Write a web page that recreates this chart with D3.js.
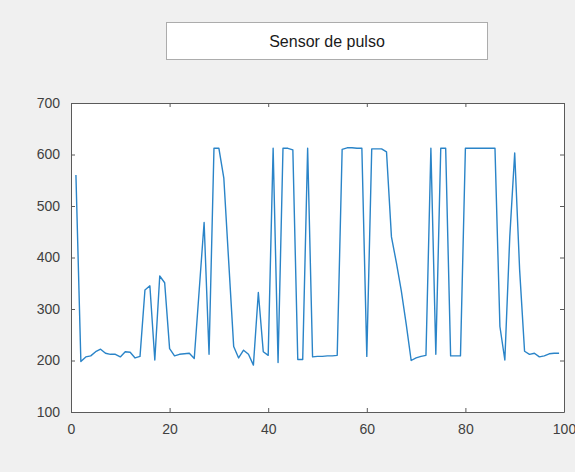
<!DOCTYPE html>
<html>
<head>
<meta charset="utf-8">
<script src="https://cdn.jsdelivr.net/npm/d3@7"></script>
<style>
  html, body { margin: 0; padding: 0; background: #f0f0f0; }
  svg { display: block; font-family: "Liberation Sans", Arial, sans-serif; }
</style>
</head>
<body>
<div id="chart"></div>
<script>
const title = "Sensor de pulso";

// pulse readings, sample 1..99
const pulse = [
  560, 198, 207, 209, 217, 222, 214, 212, 212, 207,
  217, 216, 205, 208, 337, 345, 201, 364, 351, 223,
  209, 212, 213, 214, 204, 336, 468, 212, 612, 612,
  554, 390, 227, 205, 220, 212, 191, 332, 217, 210,
  612, 196, 612, 612, 609, 202, 202, 612, 207, 208,
  208, 209, 209, 210, 610, 613, 613, 612, 612, 208,
  611, 611, 611, 605, 440, 390, 335, 270, 200, 205,
  208, 210, 612, 212, 612, 612, 209, 209, 209, 612,
  612, 612, 612, 612, 612, 612, 266, 201, 440, 603,
  376, 218, 212, 214, 207, 209, 213, 214, 214
];
const samples = pulse.map((d, i) => i + 1);

const xTicks = [0, 20, 40, 60, 80, 100];
const yTicks = [100, 200, 300, 400, 500, 600, 700];

const width = 575, height = 472;
const margin = { left: 71, right: 11, top: 103, bottom: 60 };

const svg = d3.select("#chart").append("svg")
    .attr("width", width)
    .attr("height", height);

svg.append("rect")
    .attr("width", width)
    .attr("height", height)
    .attr("fill", "#f0f0f0");

// title box
svg.append("rect")
    .attr("x", 166.5).attr("y", 22.5)
    .attr("width", 321).attr("height", 37)
    .attr("fill", "#fff")
    .attr("stroke", "#acacac");
svg.append("text")
    .attr("x", 327).attr("y", 47)
    .attr("text-anchor", "middle")
    .attr("font-size", 16)
    .attr("fill", "#1a1a1a")
    .text(title);

const x = d3.scaleLinear().domain([0, 100]).range([margin.left, width - margin.right]);
const y = d3.scaleLinear().domain([100, 700]).range([height - margin.bottom, margin.top]);

svg.append("rect")
    .attr("x", x(0)).attr("y", y(700))
    .attr("width", x(100) - x(0)).attr("height", y(100) - y(700))
    .attr("fill", "#fff");

const line = d3.line()
    .x((d, i) => x(samples[i]))
    .y(d => y(d));

svg.append("path")
    .datum(pulse)
    .attr("fill", "none")
    .attr("stroke", "#2a84c8")
    .attr("stroke-width", 1.4)
    .attr("stroke-linejoin", "round")
    .attr("d", line);

// axes, ticks pointing in, mirrored on top and right
const axisColor = "#5a5a5a";
const styleAxis = g => {
  g.select(".domain").attr("stroke", axisColor);
  g.selectAll(".tick line").attr("stroke", axisColor);
  g.selectAll(".tick text")
    .attr("fill", "#404040")
    .attr("font-size", 14)
    .attr("font-family", "Liberation Sans, Arial, sans-serif");
};

svg.append("g")
    .attr("transform", `translate(0,${y(100)})`)
    .call(d3.axisBottom(x).tickValues(xTicks).tickSizeInner(-4).tickSizeOuter(0).tickPadding(12))
    .call(styleAxis);

svg.append("g")
    .attr("transform", `translate(0,${y(700)})`)
    .call(d3.axisTop(x).tickValues(xTicks).tickSizeInner(-4).tickSizeOuter(0).tickFormat(""))
    .call(styleAxis);

svg.append("g")
    .attr("transform", `translate(${x(0)},0)`)
    .call(d3.axisLeft(y).tickValues(yTicks).tickSizeInner(-4).tickSizeOuter(0).tickPadding(11))
    .call(styleAxis);

svg.append("g")
    .attr("transform", `translate(${x(100)},0)`)
    .call(d3.axisRight(y).tickValues(yTicks).tickSizeInner(-4).tickSizeOuter(0).tickFormat(""))
    .call(styleAxis);
</script>
</body>
</html>
